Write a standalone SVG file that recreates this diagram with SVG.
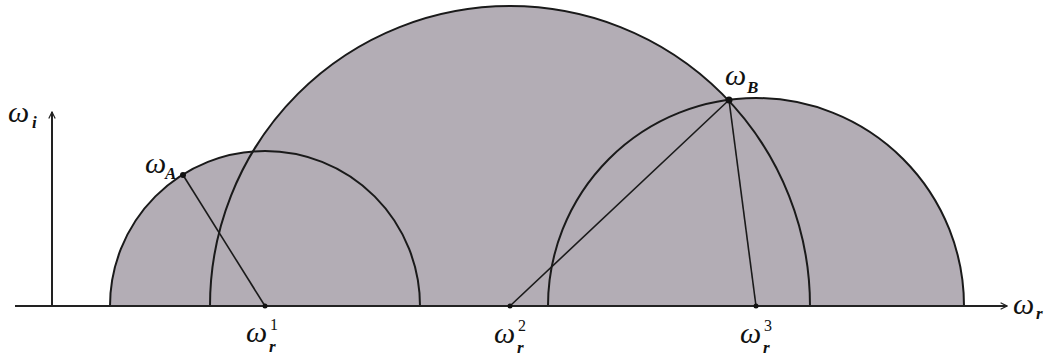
<svg xmlns="http://www.w3.org/2000/svg" width="1058" height="357" viewBox="0 0 1058 357">
<defs>
<style>
.fill{fill:#b3adb5;stroke:none}
.arc{fill:none;stroke:#1a1a1a;stroke-width:2}
.ln{stroke:#1a1a1a;stroke-width:1.6;fill:none}
.ax{stroke:#222;stroke-width:2;fill:none}
.dot{fill:#111}
.w{font-family:"Liberation Serif","DejaVu Serif",serif;font-style:italic;font-size:30px;fill:#111}
.sub{font-family:"Liberation Serif","DejaVu Serif",serif;font-style:italic;font-weight:bold;font-size:17px;fill:#111}
.sup{font-family:"Liberation Serif","DejaVu Serif",serif;font-size:16px;fill:#111}
</style>
<marker id="arr" viewBox="0 0 10 10" refX="9" refY="5" markerWidth="8" markerHeight="8" markerUnits="userSpaceOnUse" orient="auto">
<path d="M1,1 L9,5 L1,9" fill="none" stroke="#222" stroke-width="1.5"/>
</marker>
</defs>
<rect width="1058" height="357" fill="#fff"/>
<g id="regions">
<path class="fill" d="M110,306 A155,155 0 0 1 420,306 Z"/>
<path class="fill" d="M210,306 A300,300 0 0 1 810,306 Z"/>
<path class="fill" d="M548,306 A208,208 0 0 1 964,306 Z"/>
</g>
<g id="circle1"><path class="arc" d="M110,306 A155,155 0 0 1 420,306"/></g>
<g id="circle2"><path class="arc" d="M210,306 A300,300 0 0 1 810,306"/></g>
<g id="circle3"><path class="arc" d="M548,306 A208,208 0 0 1 964,306"/></g>
<g id="axes">
<line class="ax" x1="15" y1="306" x2="1007" y2="306" marker-end="url(#arr)"/>
<line class="ax" x1="52" y1="306" x2="52" y2="112" marker-end="url(#arr)"/>
<text class="w" x="8" y="122">ω</text><text class="sub" x="32" y="128">i</text>
<text class="w" x="1013" y="314">ω</text><text class="sub" x="1036" y="319">r</text>
</g>
<g id="connectors">
<line class="ln" x1="183" y1="175" x2="265" y2="306"/>
<line class="ln" x1="729" y1="100" x2="510" y2="306"/>
<line class="ln" x1="729" y1="100" x2="756" y2="306"/>
</g>
<g id="wA">
<circle class="dot" cx="183" cy="175" r="3"/>
<text class="w" x="145" y="173">ω</text><text class="sub" x="165" y="179">A</text>
</g>
<g id="wB">
<circle class="dot" cx="729" cy="100" r="3.5"/>
<text class="w" x="725" y="85">ω</text><text class="sub" x="747" y="93">B</text>
</g>
<g id="wr1">
<circle class="dot" cx="265" cy="306" r="2.5"/>
<text class="w" x="246" y="342">ω</text><text class="sup" x="270" y="330">1</text><text class="sub" x="269" y="352">r</text>
</g>
<g id="wr2">
<circle class="dot" cx="510" cy="306" r="2.5"/>
<text class="w" x="494" y="343">ω</text><text class="sup" x="518" y="331">2</text><text class="sub" x="517" y="353">r</text>
</g>
<g id="wr3">
<circle class="dot" cx="756" cy="306" r="2.5"/>
<text class="w" x="740" y="343">ω</text><text class="sup" x="764" y="331">3</text><text class="sub" x="763" y="353">r</text>
</g>
</svg>
